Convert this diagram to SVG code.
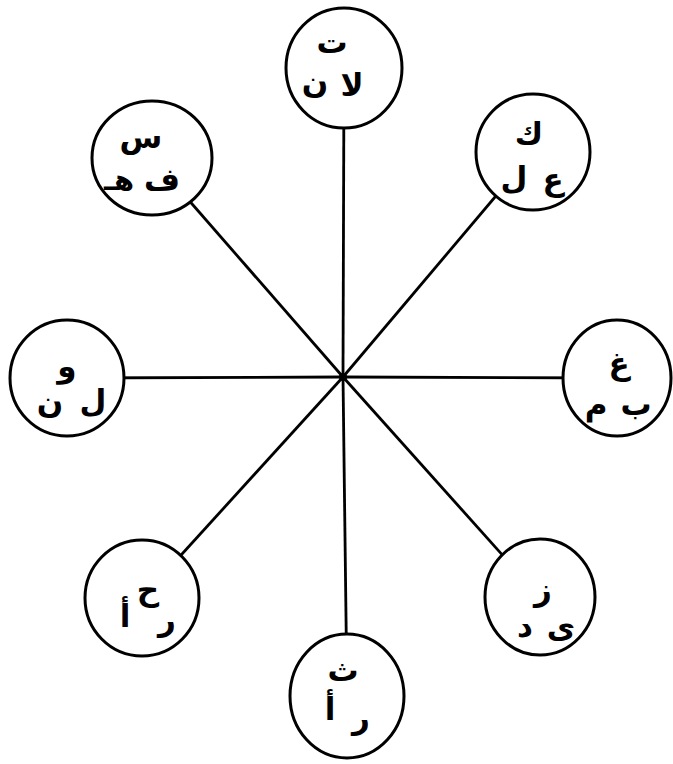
<svg xmlns="http://www.w3.org/2000/svg" width="673" height="764" viewBox="0 0 673 764">
<style>
.c{fill:#fff;stroke:#000;stroke-width:3}
.l{stroke:#000;stroke-width:2.8;fill:none}
text{font-family:"DejaVu Sans","Noto Sans",sans-serif;font-weight:bold;font-size:31px;text-anchor:middle;fill:#000}
</style>
<rect width="673" height="764" fill="#fff"/>
<g id="connectors">
<line class="l" x1="343" y1="377" x2="344" y2="68"/>
<line class="l" x1="343" y1="377" x2="533" y2="152"/>
<line class="l" x1="343" y1="377" x2="617" y2="378"/>
<line class="l" x1="343" y1="377" x2="540" y2="597"/>
<line class="l" x1="343" y1="377" x2="347" y2="696"/>
<line class="l" x1="343" y1="377" x2="142" y2="598"/>
<line class="l" x1="343" y1="377" x2="67" y2="378"/>
<line class="l" x1="343" y1="377" x2="152" y2="158"/>
<circle cx="343" cy="377" r="4" fill="#000"/>
</g>
<g id="n-top">
<ellipse class="c" cx="344" cy="68" rx="58" ry="60"/>
<text x="332" y="53">ت</text><text x="352" y="96">لا</text><text x="315" y="93">ن</text>
</g>
<g id="n-topright">
<ellipse class="c" cx="533" cy="152" rx="57" ry="58"/>
<text x="529" y="145">ك</text><text x="514" y="189">ل</text><text x="553" y="190">ع</text>
</g>
<g id="n-right">
<ellipse class="c" cx="617" cy="378" rx="54" ry="58"/>
<text x="619" y="374">غ</text><text x="636" y="415">ب</text><text x="596" y="415">م</text>
</g>
<g id="n-bottomright">
<ellipse class="c" cx="540" cy="597" rx="55" ry="58"/>
<text x="543" y="600">ز</text><text x="561" y="638">ى</text><text x="525" y="637">د</text>
</g>
<g id="n-bottom">
<ellipse class="c" cx="347" cy="696" rx="57" ry="62"/>
<text x="343" y="681">ث</text><text x="330" y="720">أ</text><text x="361" y="728">ر</text>
</g>
<g id="n-bottomleft">
<ellipse class="c" cx="142" cy="598" rx="57" ry="58"/>
<text x="148" y="600">ح</text><text x="125" y="627">أ</text><text x="167" y="630">ر</text>
</g>
<g id="n-left">
<ellipse class="c" cx="67" cy="378" rx="57" ry="58"/>
<text x="67" y="377">و</text><text x="93" y="412">ل</text><text x="50" y="413">ن</text>
</g>
<g id="n-topleft">
<ellipse class="c" cx="152" cy="158" rx="60" ry="57"/>
<text x="141" y="148">س</text><text x="119" y="190" style="font-size:29px">هـ</text><text x="162" y="190">ف</text>
</g>
</svg>
